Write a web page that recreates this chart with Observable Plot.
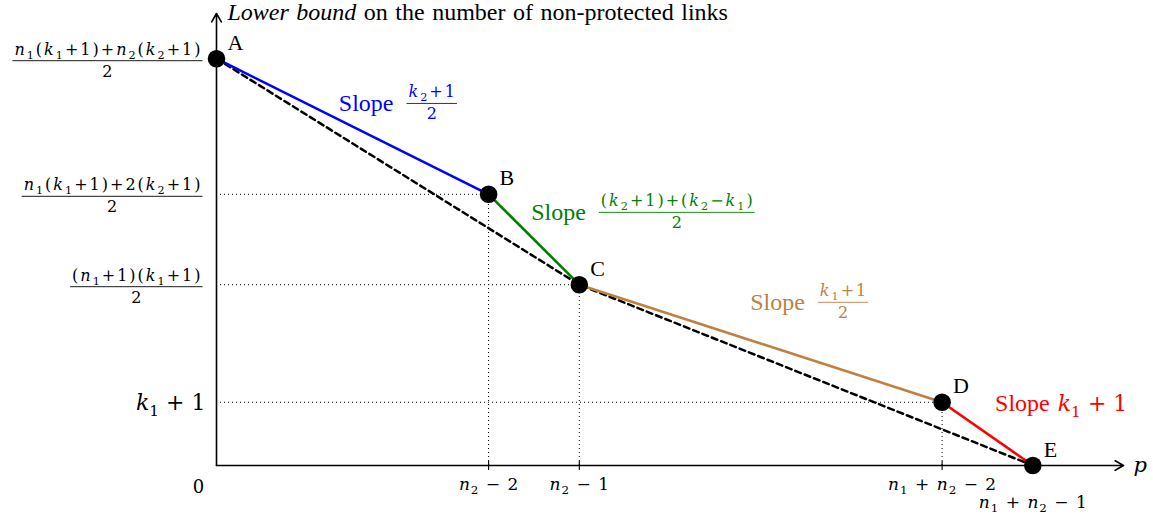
<!DOCTYPE html>
<html><head><meta charset="utf-8">
<script src="https://cdn.jsdelivr.net/npm/d3@7"></script>
<script src="https://cdn.jsdelivr.net/npm/@observablehq/plot@0.6"></script>
<style>html,body{margin:0;padding:0;background:#fff;} #chart svg{display:block;}</style>
</head><body><div id="chart"></div>
<script>
// ---------- data ----------
const pointName = ["A", "B", "C", "D", "E"];
const pointX = [0, 6, 8, 16, 18];
const pointY = [9, 6, 4, 1.4, 0];
const segColor = ["#0000ff", "#008000", "#bf8040", "#ff0000"];
const hullIdx = [0, 2, 4];               // dashed A - C - E
const slopeWord = "Slope";
const slopeNum = ["k_2+1", "(k_2+1)+(k_2−k_1)", "k_1+1", null];
const slopeDen = ["2", "2", "2", null];
const slopeInline = [null, null, null, "k_1 + 1"];
const slopeAnchorX = [4.19, 8.43, 13.26, 18.55];
const slopeAnchorY = [8.01, 5.6, 3.61, 1.4];
const yTickValue = [9, 6, 4, 1.4];
const yTickNum = ["n_1(k_1+1)+n_2(k_2+1)", "n_1(k_1+1)+2(k_2+1)", "(n_1+1)(k_1+1)", null];
const yTickDen = ["2", "2", "2", null];
const yTickInline = [null, null, null, "k_1 + 1"];
const xTickValue = [6, 8, 16, 18];
const xTickLabel = ["n_2 − 2", "n_2 − 1", "n_1 + n_2 − 2", "n_1 + n_2 − 1"];
const originLabel = "0";
const xAxisLabel = "p";
const titleItalic = "Lower bound";
const titleRest = " on the number of non-protected links";
const xMax = 20, yMax = 10;

// ---------- styles ----------
const TEXT_FONT = "Liberation Serif, Times New Roman, serif";
const MATH_FONT = "DejaVu Serif, serif";
const FRAC_SIZE = 16, FRAC_LS = 2;
const TICK_SIZE = 17, TICK_LS = 1;
const BIG_MATH = 22;
const SVGNS = "http://www.w3.org/2000/svg";
const lsFor = (size) => size === FRAC_SIZE ? FRAC_LS : size === TICK_SIZE ? TICK_LS : 0;

function runsOf(str) {
  const runs = [];
  for (let i = 0; i < str.length; i++) {
    const c = str[i];
    if (c === "_") { runs.push({t: str[i + 1], it: false, sub: true}); i++; continue; }
    const it = /[a-zA-Z]/.test(c);
    const last = runs[runs.length - 1];
    if (last && !last.sub && last.it === it) last.t += c;
    else runs.push({t: c, it, sub: false});
  }
  return runs;
}
function fillMath(node, str, size) {
  node.textContent = "";
  let shift = 0;
  for (const r of runsOf(str)) {
    const ts = document.createElementNS(SVGNS, "tspan");
    ts.textContent = r.t;
    if (r.it) ts.setAttribute("font-style", "italic");
    const target = r.sub ? size * 0.24 : 0;
    if (target !== shift) { ts.setAttribute("dy", target - shift); shift = target; }
    if (r.sub) ts.setAttribute("font-size", size * 0.7);
    node.appendChild(ts);
  }
}
function measure(str, size) {
  const svg = document.createElementNS(SVGNS, "svg");
  svg.setAttribute("width", 10); svg.setAttribute("height", 10);
  svg.style.position = "absolute"; svg.style.left = "-9999px";
  const t = document.createElementNS(SVGNS, "text");
  t.setAttribute("font-family", MATH_FONT); t.setAttribute("font-size", size);
  t.style.letterSpacing = lsFor(size) + "px";
  svg.appendChild(t); document.body.appendChild(svg);
  fillMath(t, str, size);
  const w = t.getBBox().width;
  svg.remove();
  return w;
}
const hLine = (w) => ({draw(ctx) { ctx.moveTo(-w / 2, 0); ctx.lineTo(w / 2, 0); }});
const vLine = (h) => ({draw(ctx) { ctx.moveTo(0, -h / 2); ctx.lineTo(0, h / 2); }});

function mathText(data, str, o) {
  return Plot.text(data, {x: "x", y: "y", text: () => str, dx: o.dx, dy: o.dy,
    textAnchor: o.anchor, lineAnchor: "bottom", fontFamily: MATH_FONT, fontSize: o.size,
    fill: o.color || "black"});
}
function fraction(data, num, den, o) {
  const w = Math.max(measure(num, FRAC_SIZE), measure(den, FRAC_SIZE)) + 2;
  const cx = o.side === "left" ? o.dx + w / 2 : o.dx - w / 2;
  const color = o.color || "black";
  return [
    mathText(data, num, {dx: cx + FRAC_LS / 2, dy: o.dyBar - 6, anchor: "middle", size: FRAC_SIZE, color}),
    mathText(data, den, {dx: cx + FRAC_LS / 2, dy: o.dyBar + 16, anchor: "middle", size: FRAC_SIZE, color}),
    Plot.dot(data, {x: "x", y: "y", dx: cx, dy: o.dyBar, symbol: hLine(w), stroke: color, strokeWidth: 0.9, fill: "none"})
  ];
}

// ---------- derived tables ----------
const pts = pointName.map((name, i) => ({name, x: pointX[i], y: pointY[i]}));
const segs = segColor.map((color, i) => ({x1: pointX[i], y1: pointY[i], x2: pointX[i + 1], y2: pointY[i + 1], color}));
const hull = hullIdx.map((i) => pts[i]);
const guides = pts.filter((p) => p.x > 0 && p.y > 0);
const axes = [{x1: 0, y1: 0, x2: xMax, y2: 0}, {x1: 0, y1: 0, x2: 0, y2: yMax}];

const W = 1153, H = 514, mL = 216, mR = 30, mT = 13, mB = 49;
const pxPerX = (W - mL - mR) / xMax;

const marks = [
  Plot.ruleX(guides, {x: "x", y1: 0, y2: "y", stroke: "black", strokeWidth: 1, strokeDasharray: "1,3"}),
  Plot.ruleY(guides, {y: "y", x1: 0, x2: "x", stroke: "black", strokeWidth: 1, strokeDasharray: "1,3"}),
  Plot.line(hull, {x: "x", y: "y", stroke: "black", strokeWidth: 2.5, strokeDasharray: "6,4"}),
  Plot.link(segs, {x1: "x1", y1: "y1", x2: "x2", y2: "y2", stroke: "color", strokeWidth: 2.6}),
  Plot.arrow(axes, {x1: "x1", y1: "y1", x2: "x2", y2: "y2", stroke: "black", strokeWidth: 1.6, headLength: 9}),
  Plot.dot(xTickValue, {x: (d) => d, y: 0, symbol: vLine(9), stroke: "black", strokeWidth: 1.1, fill: "none"}),
  Plot.dot(pts, {x: "x", y: "y", r: 8.8, fill: "black"}),
  Plot.text(pts, {x: "x", y: "y", text: "name", dx: 11, dy: -9, textAnchor: "start", lineAnchor: "bottom",
    fontFamily: TEXT_FONT, fontSize: 22, fill: "black"}),
  Plot.text([{x: 0, y: yMax}], {x: "x", y: "y", text: () => titleItalic + titleRest, dx: 11, dy: 6,
    textAnchor: "start", lineAnchor: "bottom", fontFamily: TEXT_FONT, fontSize: 24, fill: "black"}),
  mathText([{x: 0, y: 0}], originLabel, {dx: -18, dy: 27, anchor: "middle", size: 18}),
  mathText([{x: xMax, y: 0}], xAxisLabel, {dx: 10, dy: 6, anchor: "start", size: 21})
];

// y-axis labels
yTickValue.forEach((v, i) => {
  const d = [{x: 0, y: v}];
  if (yTickNum[i]) marks.push(...fraction(d, yTickNum[i], yTickDen[i], {side: "right", dx: -14, dyBar: 2}));
  else marks.push(mathText(d, yTickInline[i], {dx: -11, dy: 8, anchor: "end", size: BIG_MATH}));
});

// x-axis labels (second row when too close to the previous one)
let prevW = null;
xTickValue.forEach((v, i) => {
  const w = measure(xTickLabel[i], TICK_SIZE);
  let row = 0;
  if (i > 0 && (v - xTickValue[i - 1]) * pxPerX < (w + prevW) / 2 + 6) row = 1;
  prevW = w;
  marks.push(mathText([{x: v, y: 0}], xTickLabel[i], {dx: TICK_LS / 2, dy: row ? 42 : 24, anchor: "middle", size: TICK_SIZE}));
});

// slope labels
slopeAnchorX.forEach((ax, i) => {
  const d = [{x: ax, y: slopeAnchorY[i]}];
  const color = segColor[i];
  if (slopeNum[i]) {
    marks.push(Plot.text(d, {x: "x", y: "y", text: () => slopeWord, dx: -13, dy: 8, textAnchor: "end", lineAnchor: "bottom",
      fontFamily: TEXT_FONT, fontSize: 24, fill: color}));
    marks.push(...fraction(d, slopeNum[i], slopeDen[i], {side: "left", dx: 0, dyBar: 0, color}));
  } else {
    marks.push(Plot.text(d, {x: "x", y: "y", text: () => slopeWord, dx: -8, dy: 9, textAnchor: "end", lineAnchor: "bottom",
      fontFamily: TEXT_FONT, fontSize: 24, fill: color}));
    marks.push(mathText(d, slopeInline[i], {dx: 0, dy: 9, anchor: "start", size: BIG_MATH, color}));
  }
});

const chart = Plot.plot({
  width: W, height: H,
  marginLeft: mL, marginRight: mR, marginTop: mT, marginBottom: mB,
  x: {domain: [0, xMax], axis: null},
  y: {domain: [0, yMax], axis: null},
  color: {type: "identity"},
  style: {background: "white", overflow: "visible"},
  marks
});
document.getElementById("chart").appendChild(chart);

// typeset labels
chart.querySelectorAll("text").forEach((t) => {
  const g = t.closest("g");
  const fam = (g && g.getAttribute("font-family")) || "";
  const size = parseFloat(g && g.getAttribute("font-size")) || 16;
  if (fam === MATH_FONT) {
    fillMath(t, t.textContent, size);
    const ls = lsFor(size);
    if (ls) t.style.letterSpacing = ls + "px";
  } else if (t.textContent === titleItalic + titleRest) {
    t.textContent = "";
    t.style.wordSpacing = "1.5px";
    const a = document.createElementNS(SVGNS, "tspan");
    a.setAttribute("font-style", "italic"); a.textContent = titleItalic;
    const b = document.createElementNS(SVGNS, "tspan");
    b.textContent = titleRest;
    t.appendChild(a); t.appendChild(b);
  }
});
</script></body></html>
